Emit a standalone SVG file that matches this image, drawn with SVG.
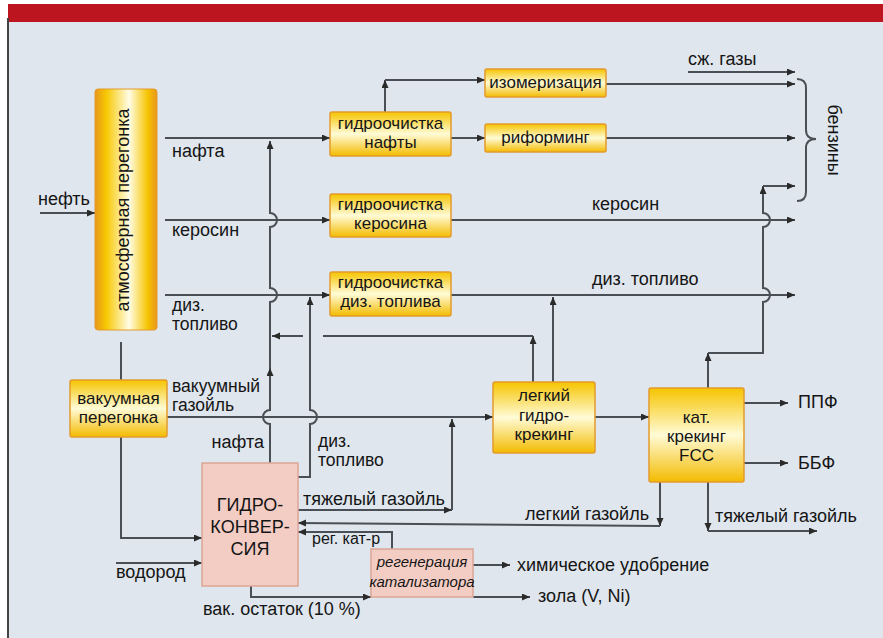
<svg xmlns="http://www.w3.org/2000/svg" width="883" height="638" viewBox="0 0 883 638">
<defs>
<linearGradient id="gy" x1="0" y1="0" x2="0" y2="1">
<stop offset="0" stop-color="#f6c400"/>
<stop offset="0.5" stop-color="#fffbd6"/>
<stop offset="1" stop-color="#f3bb00"/>
</linearGradient>
<linearGradient id="gx" x1="0" y1="0" x2="1" y2="0">
<stop offset="0" stop-color="#e8961c"/>
<stop offset="0.18" stop-color="#f7c800"/>
<stop offset="0.55" stop-color="#fffde6"/>
<stop offset="0.85" stop-color="#f6c400"/>
<stop offset="1" stop-color="#e8961c"/>
</linearGradient>
<marker id="a" markerUnits="userSpaceOnUse" markerWidth="9" markerHeight="8" refX="8" refY="3.5" orient="auto">
<path d="M0,0 L8,3.5 L0,7 z" fill="#2a2a2a"/>
</marker>
</defs>
<style>
text{font-family:"Liberation Sans",Arial,sans-serif;font-size:18px;fill:#151515}
.c{text-anchor:middle}
.b{font-size:17px}
.t{font-size:17.5px}
.s{font-size:16px}
.i{font-style:italic;font-size:15px}
.y{fill:url(#gy);stroke:#e39a2c;stroke-width:1.5}
.p{fill:#f3cdc4;stroke:#dca595;stroke-width:1.5}
#conn path{fill:none;stroke:#4a4f55;stroke-width:2}
.ar{marker-end:url(#a)}
</style>
<rect x="0" y="0" width="883" height="638" fill="#ffffff"/>
<rect x="8" y="22" width="875" height="616" fill="#dfe6ed"/>
<rect x="8" y="4" width="875" height="18" fill="#bd1520"/>
<line x1="8" y1="18" x2="8" y2="638" stroke="#444" stroke-width="2"/>

<g id="conn">
<path class="ar" d="M40,213 H95"/>
<path class="ar" d="M165,138 H330"/>
<path class="ar" d="M165,220 H330"/>
<path class="ar" d="M165,295 H330"/>
<path class="ar" d="M451,138 H485"/>
<path class="ar" d="M385,112 V80"/>
<path class="ar" d="M385,80 H485"/>
<path class="ar" d="M606,84 H795"/>
<path class="ar" d="M688,72 H795"/>
<path class="ar" d="M606,138 H795"/>
<path class="ar" d="M451,220 H795"/>
<path class="ar" d="M451,295 H795"/>
<path d="M797,79 Q806,79 806,88 V130 Q806,139 816,139 Q806,139 806,148 V192 Q806,201 797,201"/>
<path class="ar" d="M708,388 V353"/>
<path class="ar" d="M708,353 H763 V302 A7,7 0 0 0 763,288 V227 A7,7 0 0 0 763,213 V186"/>
<path class="ar" d="M763,186 H795"/>
<path class="ar" d="M270,463 V424 A7,7 0 0 1 270,410 V368"/>
<path class="ar" d="M270,368 V302 A7,7 0 0 0 270,288 V227 A7,7 0 0 0 270,213 V141"/>
<path class="ar" d="M533,382 V336"/>
<path d="M533,336 H323"/>
<path class="ar" d="M303,336 H272"/>
<path class="ar" d="M553,382 V297"/>
<path class="ar" d="M167,417 H493"/>
<path class="ar" d="M595,417 H649"/>
<path d="M121,342 V380"/>
<path class="ar" d="M121,437 V538 H202"/>
<path class="ar" d="M116,563 H202"/>
<path class="ar" d="M298,477 H310 V424 A7,7 0 0 0 310,410 V297"/>
<path class="ar" d="M298,510 H452"/>
<path class="ar" d="M452,510 V419"/>
<path class="ar" d="M660,482 V526"/>
<path class="ar" d="M660,526 L298,523"/>
<path class="ar" d="M708,482 V531"/>
<path class="ar" d="M708,531 H817"/>
<path class="ar" d="M744,403 H788"/>
<path class="ar" d="M744,463 H788"/>
<path class="ar" d="M392,549 V532 H298"/>
<path class="ar" d="M251,586 V597 H371"/>
<path class="ar" d="M473,565 H510"/>
<path class="ar" d="M473,597 H530"/>
</g>

<g id="atm">
<rect x="95" y="89" width="62" height="241" rx="3" fill="url(#gx)" stroke="#e39a2c" stroke-width="1"/>
<text class="c" transform="translate(129,210) rotate(-90)">атмосферная перегонка</text>
</g>
<g id="vac">
<rect class="y" x="70" y="380" width="97" height="57" rx="2"/>
<text class="c b" x="118.5" y="404">вакуумная</text>
<text class="c b" x="118.5" y="423">перегонка</text>
</g>
<g id="gnafta">
<rect class="y" x="330" y="112" width="121" height="44" rx="2"/>
<text class="c b" x="390.5" y="129">гидроочистка</text>
<text class="c b" x="390.5" y="148">нафты</text>
</g>
<g id="izom">
<rect class="y" x="485" y="69" width="121" height="28" rx="2"/>
<text class="c b" x="545.5" y="88">изомеризация</text>
</g>
<g id="rif">
<rect class="y" x="485" y="124" width="121" height="28" rx="2"/>
<text class="c b" x="545.5" y="143">риформинг</text>
</g>
<g id="gker">
<rect class="y" x="330" y="194" width="121" height="43" rx="2"/>
<text class="c b" x="390.5" y="210">гидроочистка</text>
<text class="c b" x="390.5" y="229">керосина</text>
</g>
<g id="gdiz">
<rect class="y" x="330" y="272" width="121" height="44" rx="2"/>
<text class="c b" x="390.5" y="288">гидроочистка</text>
<text class="c b" x="390.5" y="307">диз. топлива</text>
</g>
<g id="lgk">
<rect class="y" x="493" y="382" width="102" height="71" rx="2"/>
<text class="c b" x="544" y="401">легкий</text>
<text class="c b" x="544" y="421">гидро-</text>
<text class="c b" x="544" y="440">крекинг</text>
</g>
<g id="fcc">
<rect class="y" x="649" y="388" width="95" height="94" rx="2"/>
<text class="c b" x="696.5" y="423">кат.</text>
<text class="c b" x="696.5" y="442">крекинг</text>
<text class="c b" x="696.5" y="461">FCC</text>
</g>
<g id="hconv">
<rect class="p" x="202" y="463" width="96" height="123"/>
<text class="c" x="250" y="511">ГИДРО-</text>
<text class="c" x="250" y="533">КОНВЕР-</text>
<text class="c" x="250" y="555">СИЯ</text>
</g>
<g id="regen">
<rect class="p" x="371" y="549" width="102" height="48"/>
<text class="c i" x="422" y="567">регенерация</text>
<text class="c i" x="422" y="587">катализатора</text>
</g>

<g id="labels">
<text x="38" y="205">нефть</text>
<text x="172" y="157">нафта</text>
<text x="172" y="236">керосин</text>
<text class="t" x="172" y="311">диз.</text>
<text class="t" x="172" y="330">топливо</text>
<text class="t" x="172" y="392">вакуумный</text>
<text class="t" x="172" y="411">газойль</text>
<text x="264" y="448" text-anchor="end">нафта</text>
<text class="t" x="318" y="447">диз.</text>
<text class="t" x="318" y="466">топливо</text>
<text x="303" y="505">тяжелый газойль</text>
<text x="525" y="520">легкий газойль</text>
<text x="715" y="522">тяжелый газойль</text>
<text class="s" x="312" y="544">рег. кат-р</text>
<text x="116" y="578">водород</text>
<text x="203" y="615">вак. остаток (10 %)</text>
<text x="517" y="571">химическое удобрение</text>
<text x="538" y="602">зола (V, Ni)</text>
<text x="688" y="65">сж. газы</text>
<text x="592" y="210">керосин</text>
<text x="592" y="285">диз. топливо</text>
<text x="798" y="408">ППФ</text>
<text x="798" y="469">ББФ</text>
<text class="c" transform="translate(828,140) rotate(90)">бензины</text>
</g>
</svg>
